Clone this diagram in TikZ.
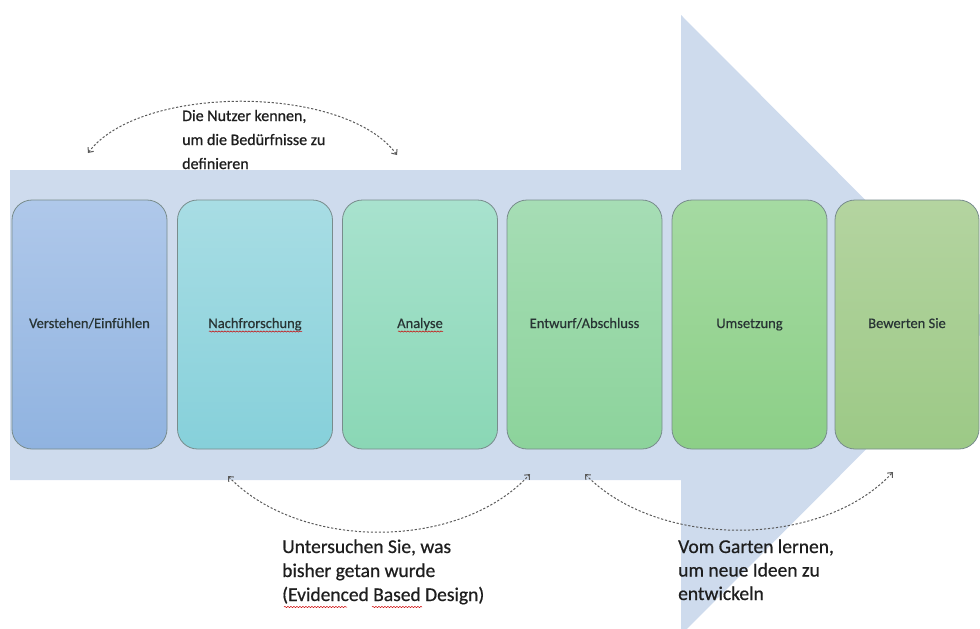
\documentclass[tikz,border=0pt]{standalone}
\usepackage{fontspec}
\setmainfont{Carlito}
\newfontfamily\topfont[FakeBold=0.8]{Carlito}
\newfontfamily\annotfont[FakeBold=0.6]{Carlito}
\newfontfamily\labelfont[FakeBold=0.4]{Carlito}
\usetikzlibrary{arrows.meta,decorations.pathmorphing}
\definecolor{arrowbg}{RGB}{206,219,237}
\definecolor{edge}{RGB}{120,140,140}
\definecolor{labeltext}{RGB}{40,52,52}
\definecolor{annot}{RGB}{30,30,30}
\definecolor{dashcol}{RGB}{90,90,90}
\definecolor{c1t}{RGB}{175,200,234}\definecolor{c1b}{RGB}{144,179,224}
\definecolor{c2t}{RGB}{168,221,228}\definecolor{c2b}{RGB}{134,208,218}
\definecolor{c3t}{RGB}{168,226,206}\definecolor{c3b}{RGB}{138,215,181}
\definecolor{c4t}{RGB}{166,221,181}\definecolor{c4b}{RGB}{140,211,155}
\definecolor{c5t}{RGB}{165,218,162}\definecolor{c5b}{RGB}{140,207,135}
\definecolor{c6t}{RGB}{180,212,160}\definecolor{c6b}{RGB}{156,201,134}
\tikzset{
  stagebox/.style={draw=edge, line width=0.8pt, rounded corners=20pt,
    minimum width=155pt, minimum height=249pt, inner sep=0pt,
    text height=10pt, text depth=3pt,
    font=\labelfont\fontsize{14.5}{17}\selectfont, text=labeltext},
  annotation/.style={anchor=base west, inner sep=0pt, text=annot},
  cycle arc/.style={dashcol, line width=1pt, dash pattern=on 2.2pt off 1.8pt,
    {Straight Barb[length=4pt,width=7pt]}-{Straight Barb[length=4pt,width=7pt]}},
  spell/.style={red!80!black, line width=0.5pt, decorate,
    decoration={snake, amplitude=0.6pt, segment length=3pt}}
}
\begin{document}
\begin{tikzpicture}[x=1pt,y=-1pt]
\useasboundingbox (0,0) rectangle (980,629);
\begin{scope}
\clip (0,0) rectangle (980,629);
\fill[arrowbg] (10,170) -- (681,170) -- (681,15) -- (990,325) -- (681,635) -- (681,480) -- (10,480) -- cycle;
\end{scope}

\node[stagebox, top color=c1t, bottom color=c1b] (s1) at (89.5,324.5) {Verstehen/Einfühlen};
\node[stagebox, top color=c2t, bottom color=c2b] (s2) at (255,324.5) {Nachfrorschung};
\node[stagebox, top color=c3t, bottom color=c3b] (s3) at (420,324.5) {Analyse};
\node[stagebox, top color=c4t, bottom color=c4b] (s4) at (584.5,324.5) {Entwurf/Abschluss};
\node[stagebox, top color=c5t, bottom color=c5b] (s5) at (749.5,324.5) {Umsetzung};
\node[stagebox, minimum width=144pt, top color=c6t, bottom color=c6b] (s6) at (907,324.5) {Bewerten Sie};

\node[annotation, font=\topfont\fontsize{16}{24}\selectfont] (n1) at (182,121)
  {\begin{tabular}[t]{@{}l@{}}Die Nutzer kennen,\\um die Bedürfnisse zu\\definieren\end{tabular}};
\node[annotation, font=\annotfont\fontsize{19.5}{24}\selectfont] (n2) at (282,553)
  {\begin{tabular}[t]{@{}l@{}}Untersuchen Sie, was\\bisher getan wurde\\(Evidenced Based Design)\end{tabular}};
\node[annotation, font=\annotfont\fontsize{19.5}{23.5}\selectfont] (n3) at (678,553)
  {\begin{tabular}[t]{@{}l@{}}Vom Garten lernen,\\um neue Ideen zu\\entwickeln\end{tabular}};

\coordinate (a1l) at (88,153);
\coordinate (a1r) at (397,155);
\coordinate (a2l) at (228,476);
\coordinate (a2r) at (530,474);
\coordinate (a3l) at (585,474);
\coordinate (a3r) at (893,472);
\draw[cycle arc] (a1l) .. controls (140,84) and (345,84) .. (a1r);
\draw[cycle arc] (a2l) .. controls (300,551) and (460,551) .. (a2r);
\draw[cycle arc] (a3l) .. controls (658,549) and (822,549) .. (a3r);

\draw[spell] (209,331.5) -- (302,331.5);
\draw[spell] (398,331.5) -- (443,331.5);
\draw[spell] (284,607) -- (347,607);
\draw[spell] (372,607) -- (422,607);
\end{tikzpicture}
\end{document}
